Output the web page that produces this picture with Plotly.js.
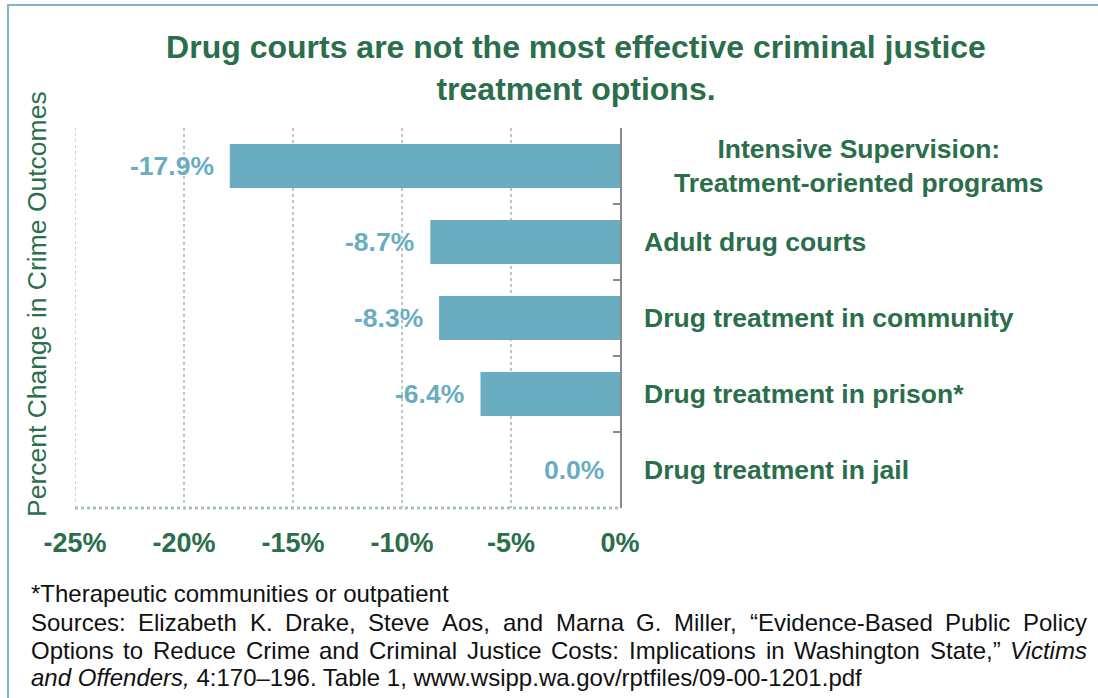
<!DOCTYPE html>
<html>
<head>
<meta charset="utf-8">
<script src="https://cdn.plot.ly/plotly-3.0.1.min.js"></script>
<style>
  html, body { margin: 0; padding: 0; background: #fff; }
  #wrap { position: relative; width: 1098px; height: 698px; }
  #chart { position: absolute; left: 0; top: 0; width: 1098px; height: 698px; }
  #frame { position: absolute; left: 7px; top: 4px; width: 1091px; height: 694px;
           border-top: 2px solid #7DB6CA; border-left: 2px solid #7DB6CA; pointer-events: none; }
</style>
</head>
<body>
<div id="wrap"><div id="chart"></div><div id="frame"></div></div>
<script>
// ---- data ----
const categories = [
  "Intensive Supervision:<br>Treatment-oriented programs",
  "Adult drug courts",
  "Drug treatment in community",
  "Drug treatment in prison*",
  "Drug treatment in jail"
];
const changes = [-17.9, -8.7, -8.3, -6.4, 0.0];
const tickValues = [-25, -20, -15, -10, -5, 0];
const tickLabels = ["-25%", "-20%", "-15%", "-10%", "-5%", "0%"];
const titleText = "Drug courts are not the most effective criminal justice<br>treatment options.";
const axisTitle = "Percent Change in Crime Outcomes";
const footnote = "*Therapeutic communities or outpatient";
const sourceLines = [
  "Sources: Elizabeth K. Drake, Steve Aos, and Marna G. Miller, \u201cEvidence-Based Public Policy",
  "Options to Reduce Crime and Criminal Justice Costs: Implications in Washington State,\u201d <i>Victims</i>",
  "<i>and Offenders,</i> 4:170\u2013196. Table 1, www.wsipp.wa.gov/rptfiles/09-00-1201.pdf"
];

// ---- layout geometry ----
const W = 1098, H = 698;
const mL = 75, mR = 478, mT = 128, mB = 190;
const pw = W - mL - mR, ph = H - mT - mB;
const px2x = px => (px - mL) / pw;
const py2y = py => (H - mB - py) / ph;

const GREEN = "#2B6E4B";
const BLUE = "#6AADC1";
const FONT = "Liberation Sans, Arial, sans-serif";
const GRID = "#B3CBC0";

const ann = [];

// category labels
categories.forEach((c, i) => {
  if (i === 0) {
    ann.push({ text: c, xref: "paper", yref: "y", x: px2x(859), y: c,
      xanchor: "center", yanchor: "middle", align: "center", showarrow: false,
      font: { family: FONT, size: 26.5, color: GREEN, weight: "bold" } });
  } else {
    ann.push({ text: c, xref: "paper", yref: "y", x: px2x(642), y: c,
      xanchor: "left", yanchor: "middle", align: "left", showarrow: false,
      font: { family: FONT, size: 26.5, color: GREEN, weight: "bold" } });
  }
});

// value labels
changes.forEach((v, i) => {
  ann.push({ text: v.toFixed(1) + "%", xref: "x", yref: "y", x: v, y: categories[i],
    xanchor: "right", yanchor: "middle", xshift: -14, showarrow: false,
    font: { family: FONT, size: 26.5, color: BLUE, weight: "bold" } });
});

// y-axis title
ann.push({ text: axisTitle, xref: "paper", yref: "paper", x: px2x(37), y: py2y(304),
  xanchor: "center", yanchor: "middle", textangle: -90, showarrow: false,
  font: { family: FONT, size: 26.5, color: GREEN } });

// footnote
const fnSize = 24;
ann.push({ text: footnote, xref: "paper", yref: "paper", x: px2x(29), y: py2y(593),
  xanchor: "left", yanchor: "middle", showarrow: false,
  font: { family: FONT, size: fnSize, color: "#111" } });

// justified source lines (measured with canvas)
const cv = document.createElement("canvas").getContext("2d");
function measure(word) {
  const italic = /<i>/.test(word);
  const plain = word.replace(/<\/?i>/g, "");
  cv.font = (italic ? "italic " : "") + fnSize + "px 'Liberation Sans'";
  return cv.measureText(plain).width;
}
const lineY = [622, 650, 677];
const left = 32, right = 1088, pad = 3;
sourceLines.forEach((line, li) => {
  if (li < 2) {
    const words = line.split(" ");
    const widths = words.map(measure);
    const total = widths.reduce((a, b) => a + b, 0);
    const gap = (right - left - total) / (words.length - 1);
    let x = left;
    words.forEach((w, k) => {
      ann.push({ text: w, xref: "paper", yref: "paper", x: px2x(x - pad), y: py2y(lineY[li]),
        xanchor: "left", yanchor: "middle", showarrow: false,
        font: { family: FONT, size: fnSize, color: "#111" } });
      x += widths[k] + gap;
    });
  } else {
    ann.push({ text: line, xref: "paper", yref: "paper", x: px2x(left - pad), y: py2y(lineY[li]),
      xanchor: "left", yanchor: "middle", showarrow: false,
      font: { family: FONT, size: fnSize, color: "#111" } });
  }
});

const data = [{
  type: "bar", orientation: "h",
  x: changes, y: categories,
  marker: { color: BLUE, line: { width: 0 } },
  width: 0.58, hoverinfo: "x+y"
}];

const layout = {
  width: W, height: H,
  margin: { l: mL, r: mR, t: mT, b: mB, pad: 0 },
  paper_bgcolor: "#fff", plot_bgcolor: "#fff",
  showlegend: false,
  title: { text: titleText, xref: "paper", x: px2x(576), xanchor: "center",
    yref: "container", y: 1 - 58 / H, yanchor: "middle",
    font: { family: FONT, size: 32, color: GREEN, weight: "bold" } },
  xaxis: {
    range: [-25, 0], tickvals: tickValues, ticktext: tickLabels,
    showgrid: true, gridcolor: GRID, gridwidth: 1.5, griddash: "dot",
    zeroline: false, showline: false, ticks: "",
    tickfont: { family: FONT, size: 27, color: GREEN, weight: "bold" },
    ticklabelstandoff: 16, fixedrange: true
  },
  yaxis: {
    type: "category", autorange: "reversed", side: "right",
    showticklabels: false, showgrid: false, zeroline: false,
    showline: true, linecolor: "#8A8A8A", linewidth: 2,
    ticks: "inside", tickson: "boundaries", ticklen: 7, tickwidth: 2, tickcolor: "#8A8A8A",
    fixedrange: true
  },
  shapes: [{
    type: "line", xref: "x", yref: "paper", x0: -25, x1: 0, y0: 0, y1: 0,
    line: { color: "#A9C2B6", width: 3, dash: "dot" }, layer: "below"
  }, {
    type: "line", xref: "x", yref: "paper", x0: -25, x1: -25, y0: 0, y1: 1,
    line: { color: GRID, width: 1.5, dash: "dot" }, layer: "below"
  }],
  annotations: ann
};

Plotly.newPlot("chart", data, layout, { displayModeBar: false, staticPlot: true });
</script>
</body>
</html>
